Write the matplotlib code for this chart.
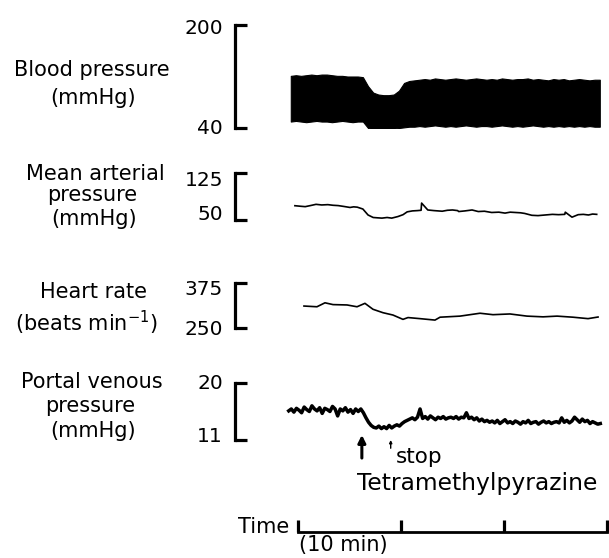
import numpy as np
import matplotlib
matplotlib.use("Agg")
import matplotlib.pyplot as plt

plt.rcParams['font.family'] = ['DejaVu Sans']

# ---------------- data ----------------
# Blood pressure envelope (mmHg), sampled every 0.5 min from -0.7 min
bp_t = np.arange(61) * 0.5 - 0.7
bp_upper = [121, 122, 121, 122, 123, 122, 123, 123, 122, 121, 121, 120, 120, 120, 119,
            105, 95, 92, 91, 91, 92, 98, 110, 113, 114,
            115, 116, 115, 117, 116, 115, 116, 117, 116, 115, 116, 117, 116, 115, 116, 115,
            117, 116, 115, 116, 116, 117, 115, 116, 115, 114, 116, 115, 116, 114, 115, 116,
            115, 114, 115, 115]
bp_lower = [50, 51, 50, 49, 50, 51, 50, 50, 49, 50, 51, 50, 49, 50, 50,
            40, 38, 38, 38, 38.5, 39, 40, 41, 42, 42,
            43, 42, 43, 44, 43, 42, 43, 42, 43, 44, 43, 42, 43, 43, 42, 43, 44, 43, 42, 43,
            42, 43, 44, 43, 42, 43, 42, 43, 42, 43, 42, 43, 42, 43, 42, 42]

# Mean arterial pressure (mmHg)
map_t = [-0.3, 0.2, 0.7, 1.2, 1.75, 2.3, 2.9, 3.4, 3.9, 4.5, 5.05, 5.4, 5.75, 6.3, 6.8,
         7.3, 7.7, 8.15, 8.65, 9.1, 9.7, 10.2, 10.6, 11.1, 11.6, 11.95, 12.0, 12.6, 13.2,
         14.0, 14.5, 15.0, 15.5, 15.6, 16.2, 16.9, 17.5, 18.1, 18.8, 19.5, 20.1, 20.6,
         21.1, 21.6, 22.0, 22.7, 23.3, 24.0, 24.7, 25.3, 25.9, 25.95, 26.6, 27.2, 27.7,
         28.2, 28.6, 29.0]
map_v = [72.8, 72, 71.3, 73, 75, 74, 74.5, 73.5, 73, 71.5, 70, 71, 70.5, 67.5, 58,
         54, 53.5, 53, 54, 53, 55.5, 58.5, 63, 64.5, 65, 65.5, 77, 66, 65,
         64, 65.5, 66, 65, 63.5, 64.5, 66, 63.5, 64, 62, 62.5, 61, 62.5,
         62, 61.5, 60.5, 57.5, 57, 58, 59, 58.5, 59, 62.5, 54.5, 58.5, 59,
         58, 59.5, 59]

# Heart rate (beats/min)
hr_t = [0.58, 1.84, 2.62, 3.4, 4.76, 5.73, 6.5, 7.28, 8.25, 9.22, 10.19, 10.68, 11.84,
        13.3, 13.79, 15.73, 17.67, 18.93, 20.58, 22.23, 23.79, 25.15, 26.7, 28.16, 29.13]
hr_v = [311, 309, 320, 315, 314, 309, 318.5, 302, 292.5, 286, 274, 279, 276,
        272, 280, 283, 291, 287, 289, 283, 281, 283, 280, 276, 280.5]

# Portal venous pressure (mmHg), sampled every 0.25 min from -0.9 min
pvp_t = np.arange(122) * 0.25 - 0.9
pvp_v = [15.6, 15.9, 15.4, 16.0, 15.7, 15.3, 16.2, 15.8, 15.5, 16.4, 15.9, 15.6, 16.1, 15.2,
         16.0, 15.8, 15.5, 16.3, 15.9, 14.8, 15.9, 15.6, 16.1, 15.4, 15.8, 15.2, 15.9, 15.5, 15.9,
         15.3, 14.5, 13.8, 13.3, 13.0, 12.9, 13.2, 12.8,
         13.1, 12.8, 13.3, 12.9, 13.2, 13.4, 13.2, 13.6, 13.9, 14.1, 14.3,
         14.5, 14.2, 14.6, 15.9, 14.4, 14.7, 14.3, 14.8, 14.5, 14.2, 14.6, 14.4, 14.7, 14.3, 14.5, 14.6,
         14.4, 14.7, 14.3, 14.6, 14.5, 15.3, 14.4, 14.6, 14.2, 14.5, 14.0, 14.3, 13.9, 14.1, 13.8, 14.0,
         13.7, 14.1, 13.6, 13.9, 14.2, 13.7, 13.9, 13.6, 14.0, 13.8, 13.5, 13.9, 13.7, 14.1, 13.6, 13.8,
         13.9, 13.5, 13.8, 14.0, 13.7, 13.9, 13.6, 13.8,
         13.9, 13.7, 14.5, 13.8, 14.1, 13.7, 14.0, 14.6, 14.2, 13.8, 14.3, 13.9, 14.1, 13.6, 13.9, 13.7,
         13.5, 13.6]

time_ticks = [0, 10, 20, 30]
start_t = 6.2   # tetramethylpyrazine start (min)
stop_t = 9.0    # stop (min)

# ---------------- layout ----------------
W, H = 609, 558
fig = plt.figure(figsize=(W / 100, H / 100), dpi=100)

X0_PX, PX_PER_MIN = 298, 10.3
LEFT_PX = 235
xlim = ((LEFT_PX - X0_PX) / PX_PER_MIN, (W - X0_PX) / PX_PER_MIN)


def ftext(x, y, s, ha='center', size=15):
    fig.text(x / W, 1 - y / H, s, ha=ha, va='baseline', fontsize=size)


def make_axes(top_px, bot_px, ylo, yhi, lab_lo_px, lab_hi_px):
    ax = fig.add_axes([LEFT_PX / W, 1 - bot_px / H, (W - LEFT_PX) / W, (bot_px - top_px) / H])
    ax.set_xlim(*xlim)
    ax.set_ylim(ylo, yhi)
    for s in ['top', 'right', 'bottom']:
        ax.spines[s].set_visible(False)
    ax.spines['left'].set_linewidth(2.3)
    ax.spines['left'].set_bounds(ylo, yhi)
    ax.set_xticks([])
    ax.set_yticks([ylo, yhi])
    ax.set_yticklabels([])
    ax.tick_params(axis='y', direction='in', length=8.6, width=2.3)
    ax.patch.set_visible(False)
    # scale numbers (placed as in the reference, slightly inside the bracket)
    ftext(223, lab_hi_px + 7.5, str(yhi), ha='right', size=14.5)
    ftext(223, lab_lo_px + 7.5, str(ylo), ha='right', size=14.5)
    return ax


ax_bp = make_axes(25, 128, 40, 200, 127, 26.5)
ax_bp.fill_between(bp_t, bp_lower, bp_upper, color='black', lw=0.8, edgecolor='black')

ax_map = make_axes(173, 220, 50, 125, 213, 178)
ax_map.plot(map_t, map_v, color='black', lw=1.2)

ax_hr = make_axes(283, 328, 250, 375, 327.5, 287.5)
ax_hr.plot(hr_t, hr_v, color='black', lw=1.2)

ax_pvp = make_axes(383, 440, 11, 20, 435, 381.5)
ax_pvp.plot(pvp_t, pvp_v, color='black', lw=2.5)

# arrows
ax_pvp.annotate('', xy=(start_t, 11.8), xytext=(start_t, 8.15), annotation_clip=False,
                arrowprops=dict(arrowstyle='-|>', lw=2.2, color='black', mutation_scale=11,
                                shrinkA=0, shrinkB=0))
ax_pvp.annotate('', xy=(stop_t, 11.0), xytext=(stop_t, 9.7), annotation_clip=False,
                arrowprops=dict(arrowstyle='-|>', lw=1.0, color='black', mutation_scale=4,
                                shrinkA=0, shrinkB=0))
ax_pvp.text(stop_t + 0.45, 7.35, 'stop', fontsize=15.5, ha='left', va='baseline', clip_on=False)
ax_pvp.text(17.4, 3.1, 'Tetramethylpyrazine', fontsize=16.8, ha='center', va='baseline',
            clip_on=False)

# time bar
ax_t = fig.add_axes([LEFT_PX / W, 1 - 532 / H, (W - LEFT_PX) / W, 15 / H])
ax_t.set_xlim(*xlim)
for s in ['top', 'right', 'left']:
    ax_t.spines[s].set_visible(False)
ax_t.spines['bottom'].set_linewidth(2.0)
ax_t.spines['bottom'].set_bounds(time_ticks[0], time_ticks[-1])
ax_t.set_yticks([])
ax_t.set_xticks(time_ticks)
ax_t.set_xticklabels([])
ax_t.tick_params(axis='x', direction='in', length=8.6, width=2.3)
ax_t.patch.set_visible(False)

# left labels (pixel positions)
ftext(92, 76, 'Blood pressure')
ftext(93, 104, '(mmHg)')
ftext(95, 180, 'Mean arterial')
ftext(92, 201, 'pressure')
ftext(94, 225, '(mmHg)')
ftext(93, 298, 'Heart rate')
ftext(86, 331, r'(beats min$^{-1}$)')
ftext(92, 388, 'Portal venous')
ftext(90, 412, 'pressure')
ftext(93, 437, '(mmHg)')
ftext(289, 533, 'Time', ha='right')
ftext(343, 551, '(10 min)')

fig.savefig('out.png', dpi=100)
